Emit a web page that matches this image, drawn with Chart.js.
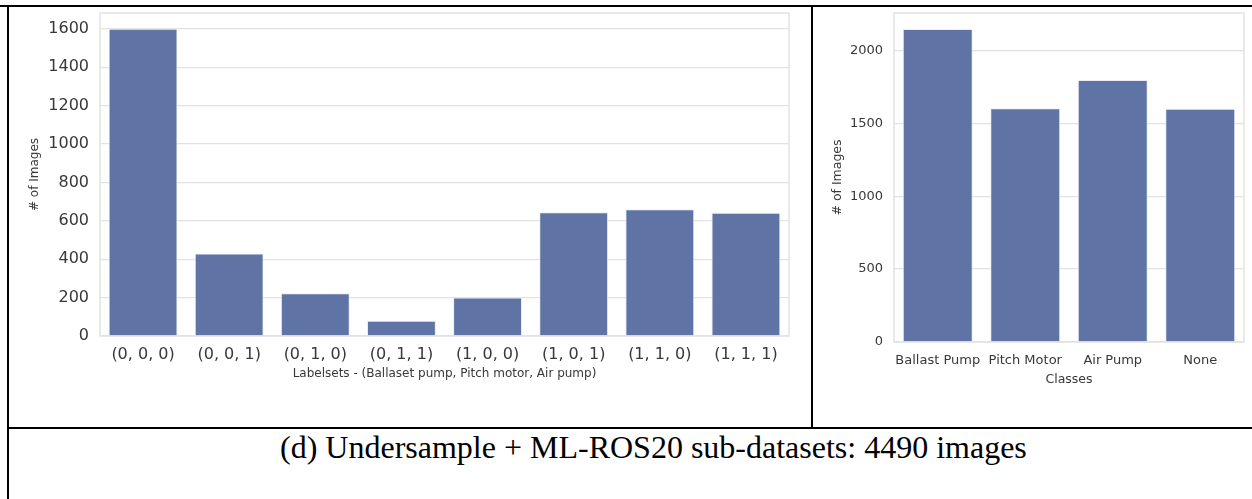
<!DOCTYPE html>
<html>
<head>
<meta charset="utf-8">
<script src="https://cdn.jsdelivr.net/npm/chart.js@4.4.0/dist/chart.umd.min.js"></script>
<style>
body { margin: 0; background: #fff; width: 1252px; height: 499px; position: relative; overflow: hidden; }
canvas { position: absolute; }
.ln { position: absolute; background: #000; z-index: 2; }
#caption { position: absolute; left: 280px; top: 428px; font-family: "Liberation Serif", serif; font-size: 32px; line-height: 38px; color: #000; white-space: nowrap; }
</style>
</head>
<body>
<div class="ln" style="left:0;top:5px;width:1252px;height:2px"></div>
<div class="ln" style="left:7px;top:5px;width:2px;height:494px"></div>
<div class="ln" style="left:811px;top:5px;width:2px;height:424px"></div>
<div class="ln" style="left:7px;top:427px;width:1245px;height:2px"></div>

<canvas id="labelsetChart" width="800" height="420" style="left:8px;top:7px"></canvas>
<canvas id="classChart" width="438" height="420" style="left:814px;top:7px"></canvas>
<div id="caption">(d) Undersample + ML-ROS20 sub-datasets: 4490 images</div>

<script>
// left panel: counts per labelset
const labelsets = ['(0, 0, 0)', '(0, 0, 1)', '(0, 1, 0)', '(0, 1, 1)', '(1, 0, 0)', '(1, 0, 1)', '(1, 1, 0)', '(1, 1, 1)'];
const labelsetCounts = [1600, 430, 222, 80, 200, 645, 660, 642];
const labelsetTicks = [0, 200, 400, 600, 800, 1000, 1200, 1400, 1600];

// right panel: counts per class
const classes = ['Ballast Pump', 'Pitch Motor', 'Air Pump', 'None'];
const classCounts = [2147, 1604, 1797, 1600];
const classTicks = [0, 500, 1000, 1500, 2000];

const barColor = 'rgb(95, 116, 164)';
const gridColor = '#e2e2e2';
const textColor = '#383838';
const font = 'DejaVu Sans';

// light grey box around the plot area, like the seaborn spines
const frame = {
	id: 'frame',
	beforeDatasetsDraw(chart) {
		const a = chart.chartArea;
		const c = chart.ctx;
		c.save();
		c.strokeStyle = gridColor;
		c.lineWidth = 1.5;
		c.strokeRect(a.left, a.top, a.right - a.left, a.bottom - a.top);
		c.restore();
	}
};

function bar_chart(id, labels, values, ticks, max, cfg) {
	const ctx = document.getElementById(id).getContext('2d');
	return new Chart(ctx, {
		type: 'bar',
		data: {
			labels: labels,
			datasets: [{
				data: values,
				backgroundColor: barColor,
				borderColor: '#e9edf5',
				borderWidth: 1,
				categoryPercentage: 0.8,
				barPercentage: 1.0
			}]
		},
		plugins: [frame],
		options: {
			responsive: false,
			animation: false,
			devicePixelRatio: 1,
			layout: { padding: { top: 6, right: cfg.padRight, left: 0, bottom: 0 } },
			plugins: { legend: { display: false }, tooltip: { enabled: false } },
			scales: {
				x: {
					afterFit: s => { s.height = cfg.xHeight; s.paddingLeft = 0; s.paddingRight = 0; },
					grid: { display: false, drawTicks: false },
					border: { display: false },
					ticks: { padding: cfg.xTickPad, color: textColor, maxRotation: 0, autoSkip: false,
						font: { family: font, size: cfg.tickSize } },
					title: { display: true, text: cfg.xTitle, color: textColor,
						font: { family: font, size: cfg.titleSize },
						padding: { top: 0, bottom: cfg.xTitlePad } }
				},
				y: {
					min: 0,
					max: max,
					afterBuildTicks: s => { s.ticks = ticks.map(v => ({ value: v })); },
					afterFit: s => { s.width = cfg.yWidth; s.paddingTop = 0; s.paddingBottom = 0; },
					grid: { color: gridColor, lineWidth: 1.3, drawTicks: false },
					border: { display: false },
					ticks: { padding: 11, color: textColor, font: { family: font, size: cfg.tickSize },
						callback: v => String(v) },
					title: { display: true, text: '# of Images', color: textColor,
						font: { family: font, size: cfg.titleSize },
						padding: { top: cfg.yTitlePad, bottom: 0 } }
				}
			}
		}
	});
}

bar_chart('labelsetChart', labelsets, labelsetCounts, labelsetTicks, 1682, {
	padRight: 19, xHeight: 91, yWidth: 92, tickSize: 16, titleSize: 12,
	xTickPad: 9, xTitlePad: 45.8, yTitlePad: 20,
	xTitle: 'Labelsets - (Ballaset pump, Pitch motor, Air pump)'
});

bar_chart('classChart', classes, classCounts, classTicks, 2257, {
	padRight: 8, xHeight: 85, yWidth: 80, tickSize: 13, titleSize: 12.5,
	xTickPad: 11, xTitlePad: 39.5, yTitlePad: 16.5,
	xTitle: 'Classes'
});
</script>
</body>
</html>
